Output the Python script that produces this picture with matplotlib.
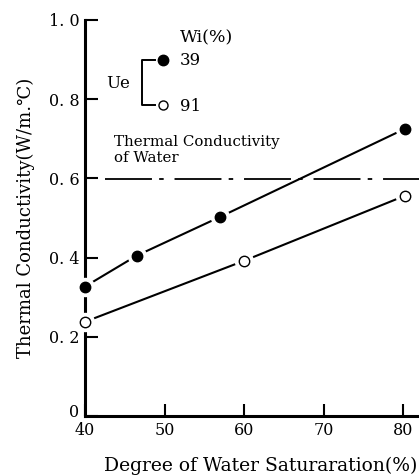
import matplotlib
matplotlib.use("Agg")
import matplotlib.pyplot as plt
import matplotlib.transforms as mtransforms

plt.rcParams['font.family'] = ['DejaVu Serif', 'DejaVu Sans']

# Ue, Wi = 39 %
sat_39 = [40, 46.5, 57, 80.2]
k_39 = [0.327, 0.405, 0.503, 0.725]
# Ue, Wi = 91 %
sat_91 = [40, 60, 80.2]
k_91 = [0.238, 0.392, 0.556]
k_water = 0.598

xticks = [40, 50, 60, 70, 80]
yticks = [0, 0.2, 0.4, 0.6, 0.8, 1.0]
ylabels = ['0', '0. 2', '0. 4', '0. 6', '0. 8', '1. 0']

fig = plt.figure(figsize=(4.19, 4.76), dpi=100)
ax = fig.add_axes([0.203, 0.126, 0.797, 0.832])

ax.axhline(k_water, xmin=0.06, color='black', lw=1.3, dashes=(26, 4, 2.5, 6))

for xs, ys, fc in [(sat_39, k_39, 'black'), (sat_91, k_91, 'white')]:
    ax.plot(xs, ys, color='black', lw=1.5, zorder=2, clip_on=False)
    ax.plot(xs, ys, 'o', ms=13, color='white', mec='white', zorder=3, clip_on=False)
    ax.plot(xs, ys, 'o', ms=7.5, mfc=fc, mec='black', mew=1.0, zorder=4, clip_on=False)

ax.set_xlim(40, 82)
ax.set_ylim(0, 1.0)
ax.spines['top'].set_visible(False)
ax.spines['right'].set_visible(False)
ax.spines['left'].set_linewidth(2.2)
ax.spines['bottom'].set_linewidth(2.2)
ax.set_xticks(xticks)
ax.set_yticks(yticks)
ax.set_yticklabels(ylabels)
ax.tick_params(direction='in', length=9, width=1.5, labelsize=11.5)
ax.tick_params(axis='x', pad=4)
ax.tick_params(axis='y', pad=4)

# lift the "0" a little so it does not run into the "40"
zero_lbl = ax.get_yticklabels()[0]
zero_lbl.set_transform(zero_lbl.get_transform() +
                       mtransforms.ScaledTranslation(0, 4 / 72, fig.dpi_scale_trans))

ax.set_xlabel('Degree of Water Saturaration(%)', fontsize=13.5, labelpad=13, x=0.525)
ax.set_ylabel('Thermal Conductivity(W/m.\u2103)', fontsize=13, labelpad=10)

# legend drawn by hand
ax.text(51.9, 0.955, 'Wi(%)', fontsize=12.5, va='center')
ax.text(42.7, 0.84, 'Ue', fontsize=12, va='center')
ax.plot([48.8, 47.2, 47.2, 48.8], [0.899, 0.899, 0.785, 0.785], color='black', lw=1.4)
ax.plot([49.8], [0.899], 'o', ms=7.5, color='black')
ax.plot([49.8], [0.785], 'o', ms=6.5, mfc='white', mec='black', mew=1.0)
ax.text(51.9, 0.898, '39', fontsize=12, va='center')
ax.text(51.9, 0.781, '91', fontsize=12, va='center')
ax.text(43.7, 0.672, 'Thermal Conductivity\nof Water', fontsize=10.8, va='center',
        linespacing=1.2)

fig.savefig('out.png', dpi=100)
